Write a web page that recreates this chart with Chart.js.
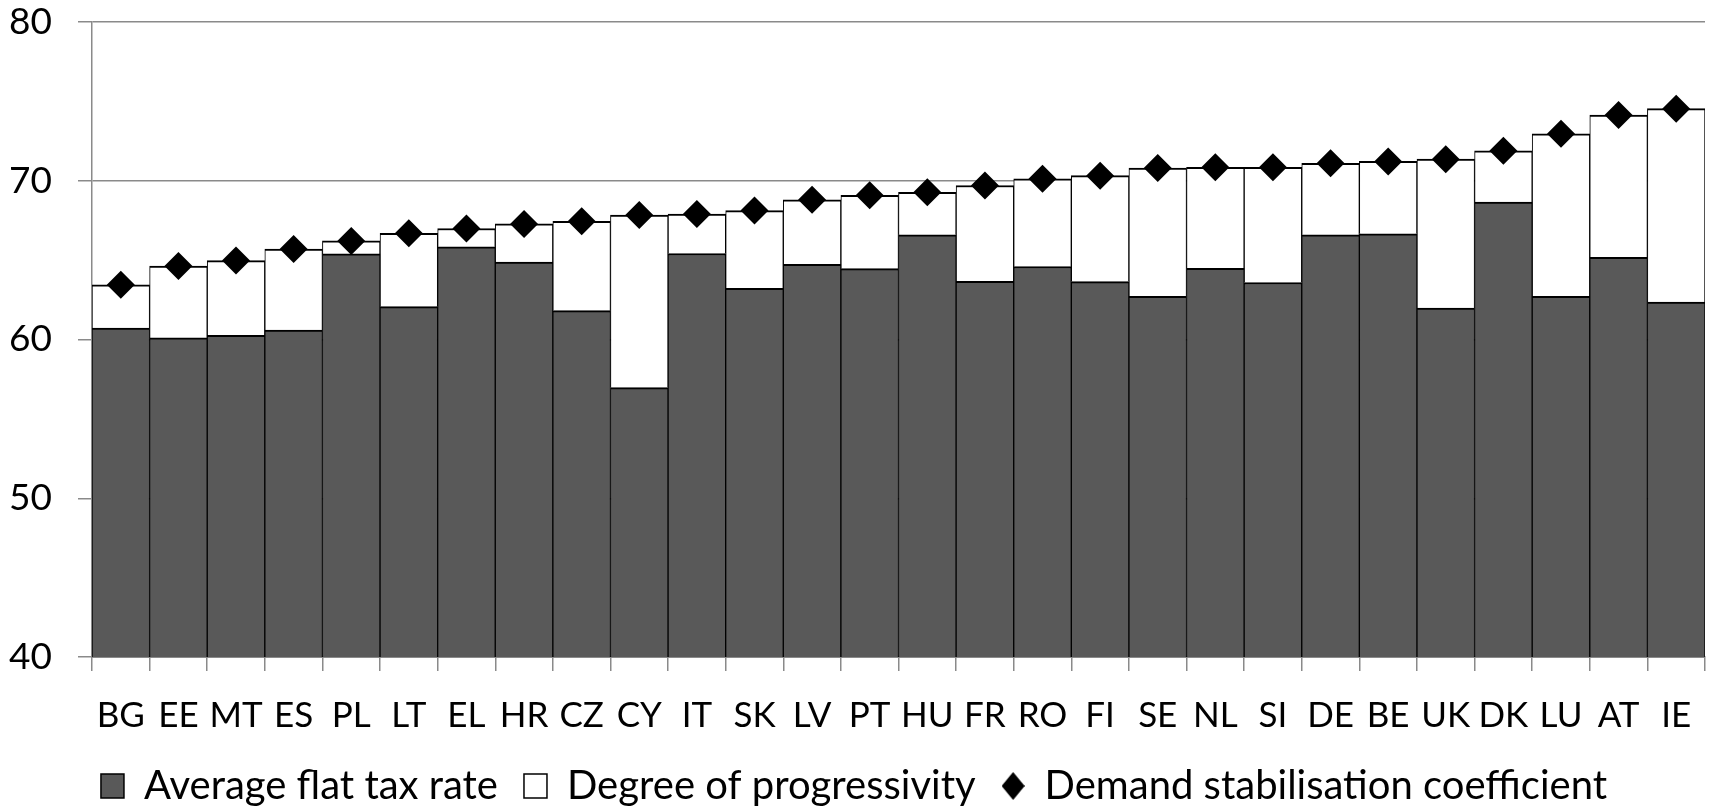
<!DOCTYPE html>
<html>
<head>
<meta charset="utf-8">
<title>Demand stabilisation coefficient</title>
<script src="https://cdn.jsdelivr.net/npm/chart.js@4"></script>
<style>
  html, body { margin: 0; padding: 0; background: #fff; }
  #chart { display: block; }
</style>
</head>
<body>
<canvas id="chart" width="1719" height="808"></canvas>
<script>
// Countries, ordered by demand stabilisation coefficient
const countries = ['BG', 'EE', 'MT', 'ES', 'PL', 'LT', 'EL', 'HR', 'CZ', 'CY', 'IT', 'SK', 'LV', 'PT',
    'HU', 'FR', 'RO', 'FI', 'SE', 'NL', 'SI', 'DE', 'BE', 'UK', 'DK', 'LU', 'AT', 'IE'];

// Lower part of each bar
const flatRate = [60.72, 60.10, 60.27, 60.60, 65.39, 62.07, 65.84, 64.88, 61.82, 56.97, 65.42, 63.22, 64.74, 64.46,
    66.60, 63.67, 64.60, 63.65, 62.72, 64.49, 63.59, 66.60, 66.66, 61.98, 68.66, 62.72, 65.17, 62.35];

// Upper (white) part, stacked on the flat rate
const progressivity = [2.73, 4.53, 4.70, 5.10, 0.82, 4.62, 1.15, 2.40, 5.63, 10.87, 2.48, 4.90, 4.06, 4.62,
    2.67, 6.03, 5.52, 6.67, 8.08, 6.36, 7.26, 4.50, 4.56, 9.38, 3.23, 10.24, 8.97, 12.19];

// Diamonds
const stabilisation = [63.45, 64.63, 64.97, 65.70, 66.21, 66.69, 66.99, 67.28, 67.45, 67.84, 67.90, 68.12, 68.80, 69.08,
    69.27, 69.70, 70.12, 70.32, 70.80, 70.85, 70.85, 71.10, 71.22, 71.36, 71.89, 72.96, 74.14, 74.54];

const yMin = 40;
const yMax = 80;
const yStep = 10;

const FONT = 'Lato, "Open Sans", sans-serif';
const GRID = '#8a8a8a';
const PLOT_TOP = 22;
const PLOT_BOTTOM = 657;
const LEGEND_PAD = 26;

// small diamond used as the legend marker
function diamondIcon(w, h) {
    const c = document.createElement('canvas');
    c.width = w;
    c.height = h;
    const g = c.getContext('2d');
    g.fillStyle = '#000';
    g.beginPath();
    g.moveTo(w / 2, 0);
    g.lineTo(w, h / 2);
    g.lineTo(w / 2, h);
    g.lineTo(0, h / 2);
    g.closePath();
    g.fill();
    return c;
}
const diamond = diamondIcon(23, 28);

const data = {
    labels: countries,
    datasets: [{
        label: 'Average flat tax rate',
        data: flatRate,
        backgroundColor: '#595959',
        borderColor: '#000',
        borderWidth: { top: 2, left: 1, right: 1 },
        order: 1
    }, {
        label: 'Degree of progressivity',
        data: progressivity,
        backgroundColor: '#fff',
        borderColor: '#000',
        borderWidth: { top: 2, left: 1, right: 1 },
        order: 1
    }, {
        type: 'line',
        label: 'Demand stabilisation coefficient',
        data: stabilisation,
        showLine: false,
        pointStyle: 'rectRot',
        pointRadius: 14,
        pointHoverRadius: 14,
        pointBackgroundColor: '#000',
        pointBorderWidth: 0,
        borderColor: '#000',
        backgroundColor: '#000',
        order: 0
    }]
};

const config = {
    type: 'bar',
    data: data,
    options: {
        responsive: false,
        animation: false,
        barPercentage: 1,
        categoryPercentage: 1,
        layout: { padding: { top: 0, right: 11, bottom: 0, left: 0 } },
        scales: {
            x: {
                stacked: true,
                grid: { drawOnChartArea: false, drawTicks: true, tickLength: 14, color: GRID, lineWidth: 1.5 },
                border: { color: GRID, width: 2 },
                ticks: { color: '#000', font: { family: FONT, size: 35 }, padding: 24, maxRotation: 0, autoSkip: false },
                afterFit: (scale) => {
                    scale.height = 808 - PLOT_BOTTOM - scale.chart.legend.height;
                }
            },
            y: {
                stacked: true,
                min: yMin,
                max: yMax,
                ticks: { stepSize: yStep, color: '#000', font: { family: FONT, size: 37 }, padding: 26 },
                grid: { color: GRID, lineWidth: 1.5, tickLength: 14 },
                border: { color: GRID, width: 1.5 },
                afterFit: (scale) => {
                    scale.width = 92;
                    scale.paddingTop = PLOT_TOP;
                    scale.paddingBottom = 0;
                }
            }
        },
        plugins: {
            tooltip: { enabled: false },
            legend: {
                position: 'bottom',
                maxHeight: 42 + LEGEND_PAD,
                labels: {
                    color: '#000',
                    font: { family: FONT, size: 40 },
                    usePointStyle: true,
                    pointStyleWidth: 23,
                    boxHeight: 24,
                    padding: LEGEND_PAD,
                    generateLabels: (chart) => {
                        const items = Chart.defaults.plugins.legend.labels.generateLabels(chart);
                        items.sort((a, b) => a.datasetIndex - b.datasetIndex);
                        items.forEach((item) => {
                            if (item.datasetIndex === 2) {
                                item.pointStyle = diamond;
                                item.lineWidth = 0;
                            } else {
                                item.pointStyle = 'rect';
                                item.strokeStyle = '#000';
                                item.lineWidth = 1.5;
                            }
                        });
                        return items;
                    }
                }
            }
        }
    }
};

const myChart = new Chart(document.getElementById('chart'), config);
</script>
</body>
</html>
